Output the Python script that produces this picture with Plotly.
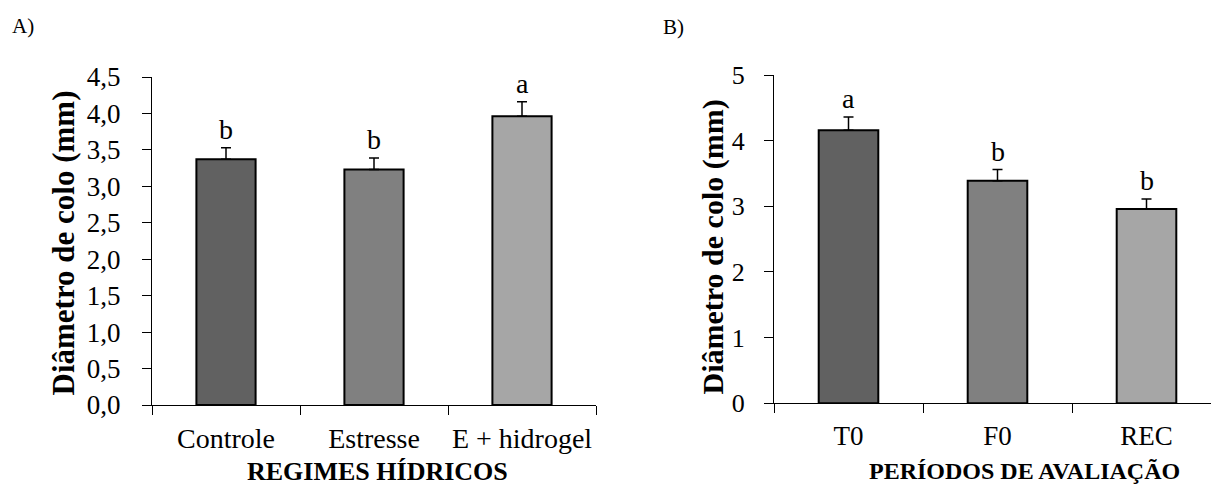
import plotly.graph_objects as go

# Panel A data
cats_a = ["Controle", "Estresse", "E + hidrogel"]
vals_a = [3.37, 3.23, 3.96]
errs_a = [0.16, 0.16, 0.20]
letters_a = ["b", "b", "a"]

# Panel B data
cats_b = ["T0", "F0", "REC"]
vals_b = [4.16, 3.39, 2.96]
errs_b = [0.20, 0.17, 0.15]
letters_b = ["a", "b", "b"]

colors = ["#616161", "#808080", "#a6a6a6"]
FONT = "Liberation Serif"
W, H = 1211, 489

fig = go.Figure()

for cats, vals, errs, xa, ya in [(cats_a, vals_a, errs_a, "x", "y"),
                                  (cats_b, vals_b, errs_b, "x2", "y2")]:
    fig.add_trace(go.Bar(
        x=cats, y=vals, xaxis=xa, yaxis=ya, width=0.4,
        marker=dict(color=colors, line=dict(color="black", width=2)),
        error_y=dict(type="data", array=errs, arrayminus=[0] * len(errs),
                     symmetric=False, color="black", thickness=1.5, width=5),
        showlegend=False, hoverinfo="skip"))

annotations = []
for cats, vals, errs, letters, xa, ya in [(cats_a, vals_a, errs_a, letters_a, "x", "y"),
                                           (cats_b, vals_b, errs_b, letters_b, "x2", "y2")]:
    for c, v, e, l in zip(cats, vals, errs, letters):
        annotations.append(dict(x=c, y=v + e, xref=xa, yref=ya, text=l,
                                showarrow=False, yanchor="bottom", yshift=1,
                                font=dict(family=FONT, size=28, color="black")))

def px(x):
    return x / W

def py(y):
    return (H - y) / H

# Y titles
annotations.append(dict(x=px(63), y=py(243.5), xref="paper", yref="paper",
                        text="<b>Diâmetro de colo (mm)</b>", textangle=-90,
                        showarrow=False, xanchor="center", yanchor="middle",
                        font=dict(family=FONT, size=31, color="black")))
annotations.append(dict(x=px(713), y=py(247.5), xref="paper", yref="paper",
                        text="<b>Diâmetro de colo (mm)</b>", textangle=-90,
                        showarrow=False, xanchor="center", yanchor="middle",
                        font=dict(family=FONT, size=30, color="black")))
# X titles
annotations.append(dict(x=px(377), y=py(471.5), xref="paper", yref="paper",
                        text="<b>REGIMES HÍDRICOS</b>", showarrow=False,
                        xanchor="center", yanchor="middle",
                        font=dict(family=FONT, size=26, color="black")))
annotations.append(dict(x=px(1024.5), y=py(471), xref="paper", yref="paper",
                        text="<b>PERÍODOS DE AVALIAÇÃO</b>", showarrow=False,
                        xanchor="center", yanchor="middle",
                        font=dict(family=FONT, size=24, color="black")))
# Panel labels
annotations.append(dict(x=px(10), y=py(26), xref="paper", yref="paper",
                        text="A)", showarrow=False, xanchor="left", yanchor="middle",
                        font=dict(family=FONT, size=21, color="black")))
annotations.append(dict(x=px(661), y=py(27), xref="paper", yref="paper",
                        text="B)", showarrow=False, xanchor="left", yanchor="middle",
                        font=dict(family=FONT, size=21, color="black")))

axis_common = dict(showline=True, linecolor="black", linewidth=1, ticks="outside",
                   ticklen=9, tickwidth=1, tickcolor="black", showgrid=False,
                   zeroline=False, fixedrange=True, automargin=False)

fig.update_layout(
    width=W, height=H, margin=dict(l=0, r=0, t=0, b=0, pad=0, autoexpand=False),
    paper_bgcolor="white", plot_bgcolor="white",
    separators=",.",
    annotations=annotations,
    xaxis=dict(domain=[px(152), px(596)], range=[-0.5, 2.5], type="category",
               tickson="boundaries", anchor="y", tickangle=0,
               tickfont=dict(family=FONT, size=28, color="black"),
               ticklabelstandoff=8, **axis_common),
    yaxis=dict(domain=[py(405), py(77)], range=[0, 4.5], dtick=0.5, tick0=0,
               tickformat=".1f", anchor="x",
               tickfont=dict(family=FONT, size=27, color="black"),
               ticklabelstandoff=16, **axis_common),
    xaxis2=dict(domain=[px(774), 1.0], range=[-0.5, -0.5 + (W - 774) / 149.0],
                type="category", tickson="boundaries", anchor="y2", tickangle=0,
                tickfont=dict(family=FONT, size=27, color="black"),
                ticklabelstandoff=8, **axis_common),
    yaxis2=dict(domain=[py(403.3), py(75)], range=[0, 5], dtick=1, tick0=0,
                anchor="x2",
                tickfont=dict(family=FONT, size=26, color="black"),
                ticklabelstandoff=14, **axis_common),
)

fig.write_html("out.html")
